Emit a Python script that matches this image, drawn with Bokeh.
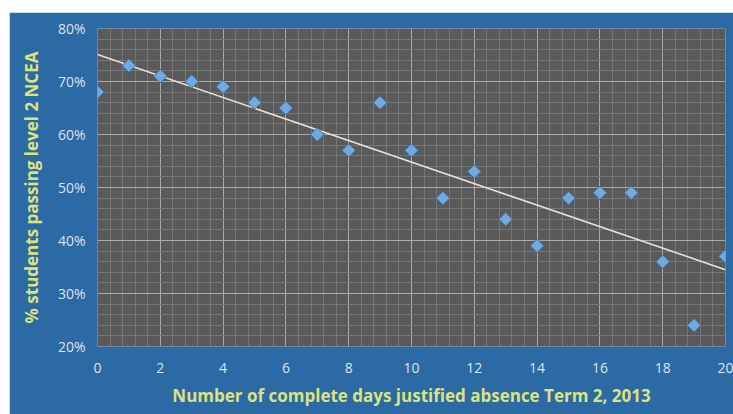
import math
from bokeh.plotting import figure
from bokeh.models import Range1d, FixedTicker, PrintfTickFormatter, Spacer
from bokeh.layouts import column, row
from bokeh.embed import file_html
from bokeh.resources import INLINE

days = [0, 1, 2, 3, 4, 5, 6, 7, 8, 9, 10, 11, 12, 13, 14, 15, 16, 17, 18, 19, 20]
pass_pct = [68, 73, 71, 70, 69, 66, 65, 60, 57, 66, 57, 48, 53, 44, 39, 48, 49, 49, 36, 24, 37]
trend_x = [0, 20]
trend_y = [75.1, 34.5]
x_ticks = [0, 2, 4, 6, 8, 10, 12, 14, 16, 18, 20]
x_minor = [i * 0.4 for i in range(51)]
y_ticks = [20, 30, 40, 50, 60, 70, 80]
y_minor = [20 + 2 * i for i in range(31)]

BLUE = "#2b6aa5"
GREY = "#5a5a5a"
LABEL = "#dce27c"
TICKC = "#dde3ea"
FONT = "Open Sans"

p = figure(frame_width=628, frame_height=318,
           x_range=Range1d(0, 20), y_range=Range1d(20, 80),
           output_backend="svg", toolbar_location=None,
           min_border_left=88, min_border_right=8,
           min_border_top=16, min_border_bottom=68)
p.border_fill_color = BLUE
p.background_fill_color = GREY
p.outline_line_color = None

p.xaxis.ticker = FixedTicker(ticks=x_ticks, minor_ticks=x_minor)
p.yaxis.ticker = FixedTicker(ticks=y_ticks, minor_ticks=y_minor)
p.yaxis.formatter = PrintfTickFormatter(format="%d%%")

for ax in (p.xaxis, p.yaxis):
    ax.axis_line_color = None
    ax.major_tick_line_color = None
    ax.minor_tick_line_color = None
    ax.major_tick_out = 0
    ax.minor_tick_out = 0
    ax.major_label_text_color = TICKC
    ax.major_label_text_font = FONT
    ax.major_label_text_font_size = "14px"
    ax.axis_label_text_color = LABEL
    ax.axis_label_text_font = FONT
    ax.axis_label_text_font_size = "17px"
    ax.axis_label_text_font_style = "bold"

p.xaxis.axis_label = "Number of complete days justified absence Term 2, 2013"
p.yaxis.axis_label = "% students passing level 2 NCEA"
p.xaxis.major_label_standoff = 16
p.yaxis.major_label_standoff = 12
p.xaxis.axis_label_standoff = 8
p.yaxis.axis_label_standoff = 12

for g in (p.xgrid, p.ygrid):
    g.grid_line_color = "#a9a9a9"
    g.grid_line_width = 1
    g.minor_grid_line_color = "#767676"
    g.minor_grid_line_width = 1

p.line(trend_x, trend_y, line_color="#e9e2d4", line_width=1.6)
p.scatter(days, pass_pct, marker="square", angle=math.pi / 4, size=9.5,
          fill_color="#72aadf", line_color="#3c74ab", line_width=1)

layout = row(Spacer(width=9), column(Spacer(height=12), p, spacing=0), spacing=0)
open("out.html", "w").write(file_html(layout, INLINE))
